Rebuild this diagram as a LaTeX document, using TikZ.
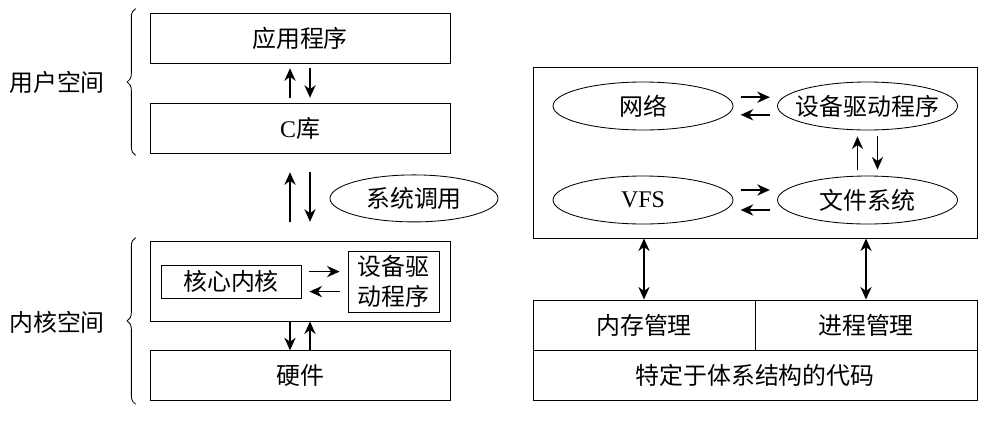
\documentclass[tikz,border=0pt]{standalone}
\usepackage{fontspec}
\setmainfont{Liberation Serif}
\newfontfamily\cjk{Noto Sans CJK SC}
\usetikzlibrary{arrows.meta,shapes.geometric,decorations.pathreplacing,positioning}

\tikzset{
  every node/.style={font=\cjk\fontsize{17}{21}\selectfont},
  layer/.style={draw,rectangle,minimum width=7.5cm,minimum height=1.25cm,inner sep=0pt},
  part/.style={draw,rectangle,inner sep=0pt},
  oval/.style={draw,ellipse,minimum width=4.5cm,minimum height=1.2cm,inner xsep=-0.6cm,inner ysep=0pt},
  flow/.style={-{Stealth[length=9pt,width=8pt]},line width=1.1pt},
  both/.style={{Stealth[length=9pt,width=8pt]}-{Stealth[length=9pt,width=8pt]},line width=1.1pt},
  side/.style={decorate,decoration={brace,amplitude=6pt}}
}

\begin{document}
\begin{tikzpicture}[semithick]
		\useasboundingbox (0,0) rectangle (25,-10.5);

		% left column
		\node[layer] (app) at (7.5,-0.95) {应用程序};
		\node[layer] (clib) [below of=app,node distance=2.25cm] {{\rmfamily C}库};
		\node[layer,minimum height=2cm] (kern) at (7.5,-7.025) {};
		\node[layer] (hw) [below of=kern,node distance=2.37cm] {硬件};
		\node[part,minimum width=3.5cm,minimum height=0.825cm] (core) at (5.775,-7.04) {核心内核};
		\node[part,minimum width=2.275cm,minimum height=1.525cm,align=center] (kdrv) at (9.84,-7.04) {设备驱\\动程序};
		\node[oval,minimum width=4.2cm,minimum height=1.175cm] (sys) at (10.35,-4.96) {系统调用};

		\node (user) at (1.425,-2.05) {用户空间};
		\node (kspace) at (1.425,-8.05) {内核空间};
		\draw[side] ([shift={(-0.35,-0.05)}]clib.south west) -- ([shift={(-0.35,0.1)}]app.north west);
		\draw[side] ([shift={(-0.35,-0.075)}]hw.south west) -- ([shift={(-0.35,0.075)}]kern.north west);

		\draw[flow,shorten >=0.12cm,shorten <=0.12cm] ([xshift=-0.25cm]clib.north) -- ([xshift=-0.25cm]app.south);
		\draw[flow,shorten >=0.12cm,shorten <=0.12cm] ([xshift=0.25cm]app.south) -- ([xshift=0.25cm]clib.north);
		\draw[flow,shorten >=0.47cm,shorten <=0.47cm] ([xshift=-0.25cm]kern.north) -- ([xshift=-0.25cm]clib.south);
		\draw[flow,shorten >=0.47cm,shorten <=0.47cm] ([xshift=0.25cm]clib.south) -- ([xshift=0.25cm]kern.north);
		\draw[flow] ([xshift=-0.25cm]kern.south) -- ([xshift=-0.25cm]hw.north);
		\draw[flow] ([xshift=0.25cm]hw.north) -- ([xshift=0.25cm]kern.south);
		\draw[flow,shorten >=0.2cm,shorten <=0.2cm] ([yshift=0.25cm]core.east) -- ([yshift=0.25cm]core.east -| kdrv.west);
		\draw[flow,shorten >=0.2cm,shorten <=0.2cm] ([yshift=-0.25cm]core.east -| kdrv.west) -- ([yshift=-0.25cm]core.east);

		% right column
		\node[part,minimum width=11.1cm,minimum height=4.275cm] (kbox) at (18.875,-3.8125) {};
		\node[oval] (net) at (16.075,-2.65) {网络};
		\node[oval] (ddrv) [right of=net,node distance=5.6125cm] {设备驱动程序};
		\node[oval] (vfs) at (16.075,-5.0) {{\rmfamily VFS}};
		\node[oval] (fs) [right of=vfs,node distance=5.6125cm] {文件系统};
		\node[part,minimum width=5.55cm,minimum height=1.25cm] (mem) at (16.1,-8.125) {内存管理};
		\node[part,minimum width=5.55cm,minimum height=1.25cm] (proc) [right of=mem,node distance=5.55cm] {进程管理};
		\node[part,minimum width=11.1cm,minimum height=1.25cm] (arch) at (18.875,-9.375) {特定于体系结构的代码};

		\draw[flow,shorten >=0.18cm,shorten <=0.18cm] ([yshift=0.22cm]net.east) -- ([yshift=0.22cm]ddrv.west);
		\draw[flow,shorten >=0.18cm,shorten <=0.18cm] ([yshift=-0.22cm]ddrv.west) -- ([yshift=-0.22cm]net.east);
		\draw[flow,shorten >=0.18cm,shorten <=0.18cm] ([yshift=0.25cm]vfs.east) -- ([yshift=0.25cm]fs.west);
		\draw[flow,shorten >=0.18cm,shorten <=0.18cm] ([yshift=-0.25cm]fs.west) -- ([yshift=-0.25cm]vfs.east);
		\draw[flow,shorten >=0.15cm,shorten <=0.15cm] ([xshift=-0.25cm]fs.north) -- ([xshift=-0.25cm]ddrv.south);
		\draw[flow,shorten >=0.15cm,shorten <=0.15cm] ([xshift=0.25cm]ddrv.south) -- ([xshift=0.25cm]fs.north);
		\draw[both] (mem.north) -- (mem.north |- kbox.south);
		\draw[both] (proc.north) -- (proc.north |- kbox.south);
		\end{tikzpicture}
\end{document}
